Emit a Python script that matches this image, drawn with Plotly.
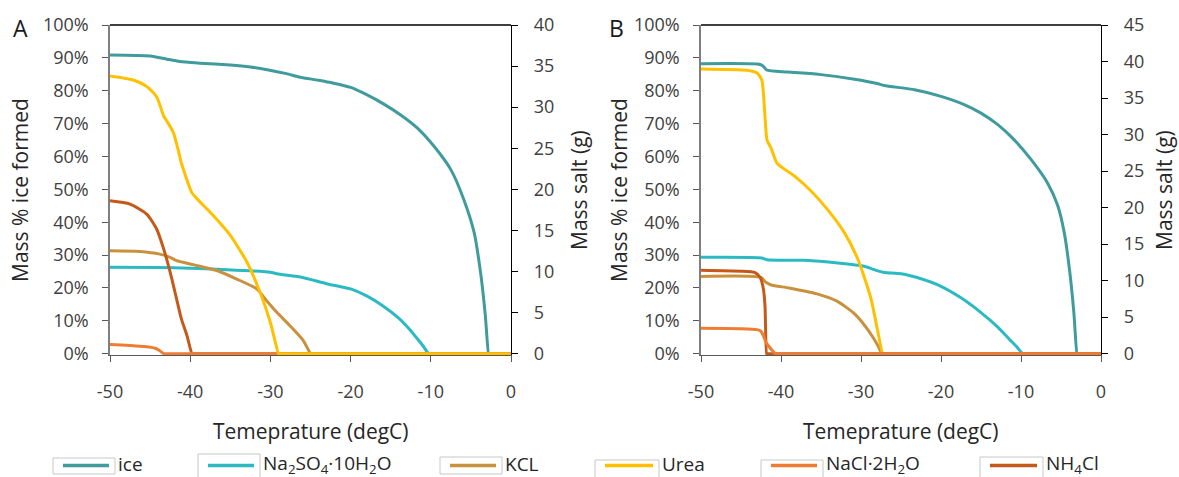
import plotly.graph_objects as go

# ---------------- data ----------------
# Panel A: temperature (degC) vs ice fraction and salt mass (g)
a_ice_t = [-50, -45, -42.9, -41.3, -38.8, -35, -32.5, -30.4, -28, -26.3, -24, -22.1, -20, -18,
           -15.9, -13.8, -11.7, -9.6, -7.5, -5.9, -4.6, -3.8, -3.2, -2.8, -2.75, 0]
a_ice = [0.909, 0.906, 0.896, 0.889, 0.884, 0.878, 0.872, 0.864, 0.852, 0.841, 0.832, 0.823, 0.81,
         0.788, 0.76, 0.727, 0.687, 0.631, 0.56, 0.47, 0.369, 0.248, 0.116, 0.0, 0.0, 0.0]

a_na2so4_t = [-50, -44, -40, -36, -32.5, -30, -29.2, -26, -23, -20, -18, -16, -14, -12.5,
              -11.5, -10.8, -10.3, -10.25, 0]
a_na2so4 = [10.52, 10.48, 10.4, 10.24, 10.08, 9.92, 9.72, 9.28, 8.52, 7.88, 7.04, 5.84, 4.32, 2.8,
            1.6, 0.72, 0.0, 0.0, 0.0]

a_kcl_t = [-50, -46.3, -43.8, -42.5, -41.7, -40, -38.8, -36.7, -34.2, -31.7, -30.5, -29.2, -27.6,
           -25.9, -25.0, -24.95, 0]
a_kcl = [12.52, 12.44, 12.12, 11.72, 11.32, 10.92, 10.64, 10.12, 9.08, 7.88, 6.48, 5.04, 3.44,
         1.6, 0.0, 0.0, 0.0]

a_urea_t = [-50, -47.1, -45.4, -44.2, -43.3, -42.9, -42.1, -41.5, -41.1, -39.8, -39.2, -37.5, -35,
            -32.9, -31.3, -30, -29, -28.95, 0]
a_urea = [33.8, 33.3, 32.5, 31.3, 28.9, 28.3, 26.9, 24.8, 23.2, 19.6, 18.9, 17.2, 14.4, 11.1, 7.5,
          3.8, 0.0, 0.0, 0.0]

a_nacl_t = [-50, -46.3, -45, -44.2, -43.8, -43.3, -43.25, 0]
a_nacl = [1.12, 0.92, 0.8, 0.6, 0.36, 0.0, 0.0, 0.0]

a_nh4cl_t = [-50, -47.5, -45.4, -44.2, -43.3, -42.5, -41.7, -41.1, -40.4, -39.8, -39.75, 0]
a_nh4cl = [18.6, 18.2, 16.96, 15.2, 12.72, 9.92, 6.68, 4.24, 2.2, 0.0, 0.0, 0.0]

# Panel B
b_ice_t = [-50, -42.6, -42.2, -41.8, -39.2, -35, -30.8, -28, -27.1, -23.3, -20, -17.1, -15, -12.9,
           -10.9, -8.75, -6.7, -5.4, -4.6, -3.9, -3.4, -3.0, -2.95, 0]
b_ice = [0.882, 0.880, 0.874, 0.863, 0.857, 0.849, 0.835, 0.822, 0.816, 0.803, 0.783, 0.758, 0.732,
         0.697, 0.652, 0.591, 0.52, 0.45, 0.369, 0.248, 0.127, 0.0, 0.0, 0.0]

b_na2so4_t = [-50, -42.4, -41.8, -37.1, -32.9, -29.6, -27.9, -27.1, -25, -22.5, -20, -17.5, -15,
              -13, -11.5, -10.5, -9.8, -9.75, 0]
b_na2so4 = [13.19, 13.1, 12.87, 12.78, 12.42, 11.97, 11.34, 11.12, 10.94, 10.26, 9.23, 7.65, 5.63,
            3.74, 2.03, 0.9, 0.0, 0.0, 0.0]

b_kcl_t = [-50, -42.5, -41.9, -41.25, -39, -35.5, -33, -30.8, -29, -27.9, -27.4, -27.35, 0]
b_kcl = [10.58, 10.44, 9.77, 9.41, 9.0, 8.19, 7.2, 5.45, 3.06, 1.13, 0.0, 0.0, 0.0]

b_urea_t = [-50, -44.3, -43, -42.4, -42.2, -42, -41.75, -41.25, -40.5, -38.3, -36.25, -34.2, -32.1,
            -30.4, -28.75, -27.3, -27.25, 0]
b_urea = [38.97, 38.79, 38.43, 37.49, 35.69, 32.49, 29.25, 28.17, 26.1, 24.3, 22.28, 19.76, 16.61,
          12.96, 7.52, 0.0, 0.0, 0.0]

b_nacl_t = [-50, -45, -43, -42.5, -42.2, -41.9, -41.5, -41, -40.7, -40.65, 0]
b_nacl = [3.47, 3.42, 3.29, 3.06, 2.48, 1.58, 0.99, 0.32, 0.0, 0.0, 0.0]

b_nh4cl_t = [-50, -45, -43.3, -42.6, -42.2, -42, -41.8, -41.75, 0]
b_nh4cl = [11.43, 11.3, 11.12, 10.44, 8.87, 6.57, 0.0, 0.0, 0.0]

series_names = ["ice", "Na<sub>2</sub>SO<sub>4</sub>·10H<sub>2</sub>O", "KCL", "Urea",
                "NaCl·2H<sub>2</sub>O", "NH<sub>4</sub>Cl"]
series_colors = ["#3F9B9C", "#2CBAC2", "#C9913E", "#FFC000", "#EE7D33", "#C4591A"]

x_ticks = [-50, -40, -30, -20, -10, 0]
x_tick_labels = ["-50", "-40", "-30", "-20", "-10", "0"]

# ---------------- layout helpers ----------------
W, H = 1179, 477
FONT = "Open Sans"
TXT = "#404040"


def px(x):
    return x / W


def py(y):
    return 1 - y / H


keys = ["ice", "na2so4", "kcl", "urea", "nacl", "nh4cl"]
color = dict(zip(keys, series_colors))
name = dict(zip(keys, series_names))

fig = go.Figure()


def add(key, t, v, xa, ya):
    fig.add_trace(go.Scatter(x=t, y=v, mode="lines", name=name[key], showlegend=False,
                             line=dict(color=color[key], width=3, shape="spline", smoothing=0.6),
                             xaxis=xa, yaxis=ya))


# panel A (draw order controls overlap on the zero line)
add("ice", a_ice_t, a_ice, "x", "y")
add("na2so4", a_na2so4_t, a_na2so4, "x", "y2")
add("kcl", a_kcl_t, a_kcl, "x", "y2")
add("nh4cl", a_nh4cl_t, a_nh4cl, "x", "y2")
add("nacl", a_nacl_t, a_nacl, "x", "y2")
add("urea", a_urea_t, a_urea, "x", "y2")

# panel B
add("ice", b_ice_t, b_ice, "x2", "y3")
add("na2so4", b_na2so4_t, b_na2so4, "x2", "y4")
add("kcl", b_kcl_t, b_kcl, "x2", "y4")
add("urea", b_urea_t, b_urea, "x2", "y4")
add("nh4cl", b_nh4cl_t, b_nh4cl, "x2", "y4")
add("nacl", b_nacl_t, b_nacl, "x2", "y4")

tickfont = dict(family=FONT, size=18, color=TXT)
PAD = 0.004  # keeps lines on the zero level fully visible


def xaxis_cfg(x0, x1, anchor):
    return dict(domain=[px(x0), px(x1)], anchor=anchor, range=[-50, 0], tickvals=x_ticks,
                ticktext=x_tick_labels, showgrid=False, zeroline=False, showline=True,
                linecolor="#595959", linewidth=1.3, ticks="outside", ticklen=6,
                tickcolor="#595959", tickfont=tickfont, ticklabelstandoff=14)


def left_cfg(anchor):
    return dict(domain=[py(355), py(25)], anchor=anchor, range=[-PAD, 1],
                tickvals=[i / 10 for i in range(11)], tickformat=".0%", showgrid=False,
                zeroline=False, showline=True, linecolor="#7f7f7f", linewidth=1.5,
                ticks="outside", ticklen=6, tickcolor="#595959", tickfont=tickfont,
                ticklabelstandoff=10)


def right_cfg(anchor, overlay, top):
    return dict(overlaying=overlay, anchor=anchor, side="right", range=[-PAD * top, top],
                tickvals=list(range(0, top + 1, 5)), showgrid=False, zeroline=False,
                showline=True, linecolor="#000000", linewidth=1.3, ticks="outside", ticklen=6,
                tickcolor="#000000", tickfont=tickfont, ticklabelstandoff=12)


fig.update_layout(
    width=W, height=H, margin=dict(l=0, r=0, t=0, b=0),
    template="none", paper_bgcolor="white", plot_bgcolor="white", showlegend=False,
    xaxis=xaxis_cfg(110, 511, "y"),
    yaxis=left_cfg("x"),
    yaxis2=right_cfg("x", "y", 40),
    xaxis2=xaxis_cfg(701, 1101, "y3"),
    yaxis3=left_cfg("x2"),
    yaxis4=right_cfg("x2", "y3", 45),
)

# top border line of each plot area
for xr, yr in (("x domain", "y domain"), ("x2 domain", "y3 domain")):
    fig.add_shape(type="line", xref=xr, yref=yr, x0=0, x1=1, y0=1, y1=1,
                  line=dict(color="#000000", width=1.3))

annotations = []
title_font = dict(family=FONT, size=21, color="#262626")

# panel letters
for lbl, cx in (("A", 20), ("B", 616)):
    annotations.append(dict(text=lbl, x=px(cx), y=py(28), xref="paper", yref="paper",
                            showarrow=False, xanchor="center", yanchor="middle",
                            font=dict(family=FONT, size=23, color="#1a1a1a")))

# axis titles
for cx in (310.5, 901):
    annotations.append(dict(text="Temeprature (degC)", x=px(cx), y=py(431), xref="paper",
                            yref="paper", showarrow=False, xanchor="center", yanchor="middle",
                            font=title_font))
for cx in (20, 619):
    annotations.append(dict(text="Mass % ice formed", x=px(cx), y=py(190), xref="paper",
                            yref="paper", showarrow=False, xanchor="center", yanchor="middle",
                            textangle=-90, font=title_font))
for cx in (579, 1164):
    annotations.append(dict(text="Mass salt (g)", x=px(cx), y=py(190), xref="paper",
                            yref="paper", showarrow=False, xanchor="center", yanchor="middle",
                            textangle=-90, font=title_font))

# legend row: bordered key boxes with a line sample, then the label
legend_boxes = [(53, 115, 458, 474), (198, 260, 454, 479), (440, 502, 457, 474),
                (595, 659, 460, 479), (761, 823, 460, 479), (980, 1043, 457, 479)]
for (x0, x1, y0, y1), nm, col in zip(legend_boxes, series_names, series_colors):
    fig.add_shape(type="rect", xref="paper", yref="paper", x0=px(x0), x1=px(x1), y0=py(y1),
                  y1=py(y0), line=dict(color="#c8c8c8", width=1), fillcolor="white")
    fig.add_shape(type="line", xref="paper", yref="paper", x0=px(x0 + 10), x1=px(x1 - 6),
                  y0=py(465.5), y1=py(465.5), line=dict(color=col, width=3.5))
    annotations.append(dict(text=nm, x=px(x1 + 1), y=py(464), xref="paper", yref="paper",
                            showarrow=False, xanchor="left", yanchor="middle",
                            font=dict(family=FONT, size=19, color="#262626")))

fig.update_layout(annotations=annotations)

fig.write_html("out.html")
